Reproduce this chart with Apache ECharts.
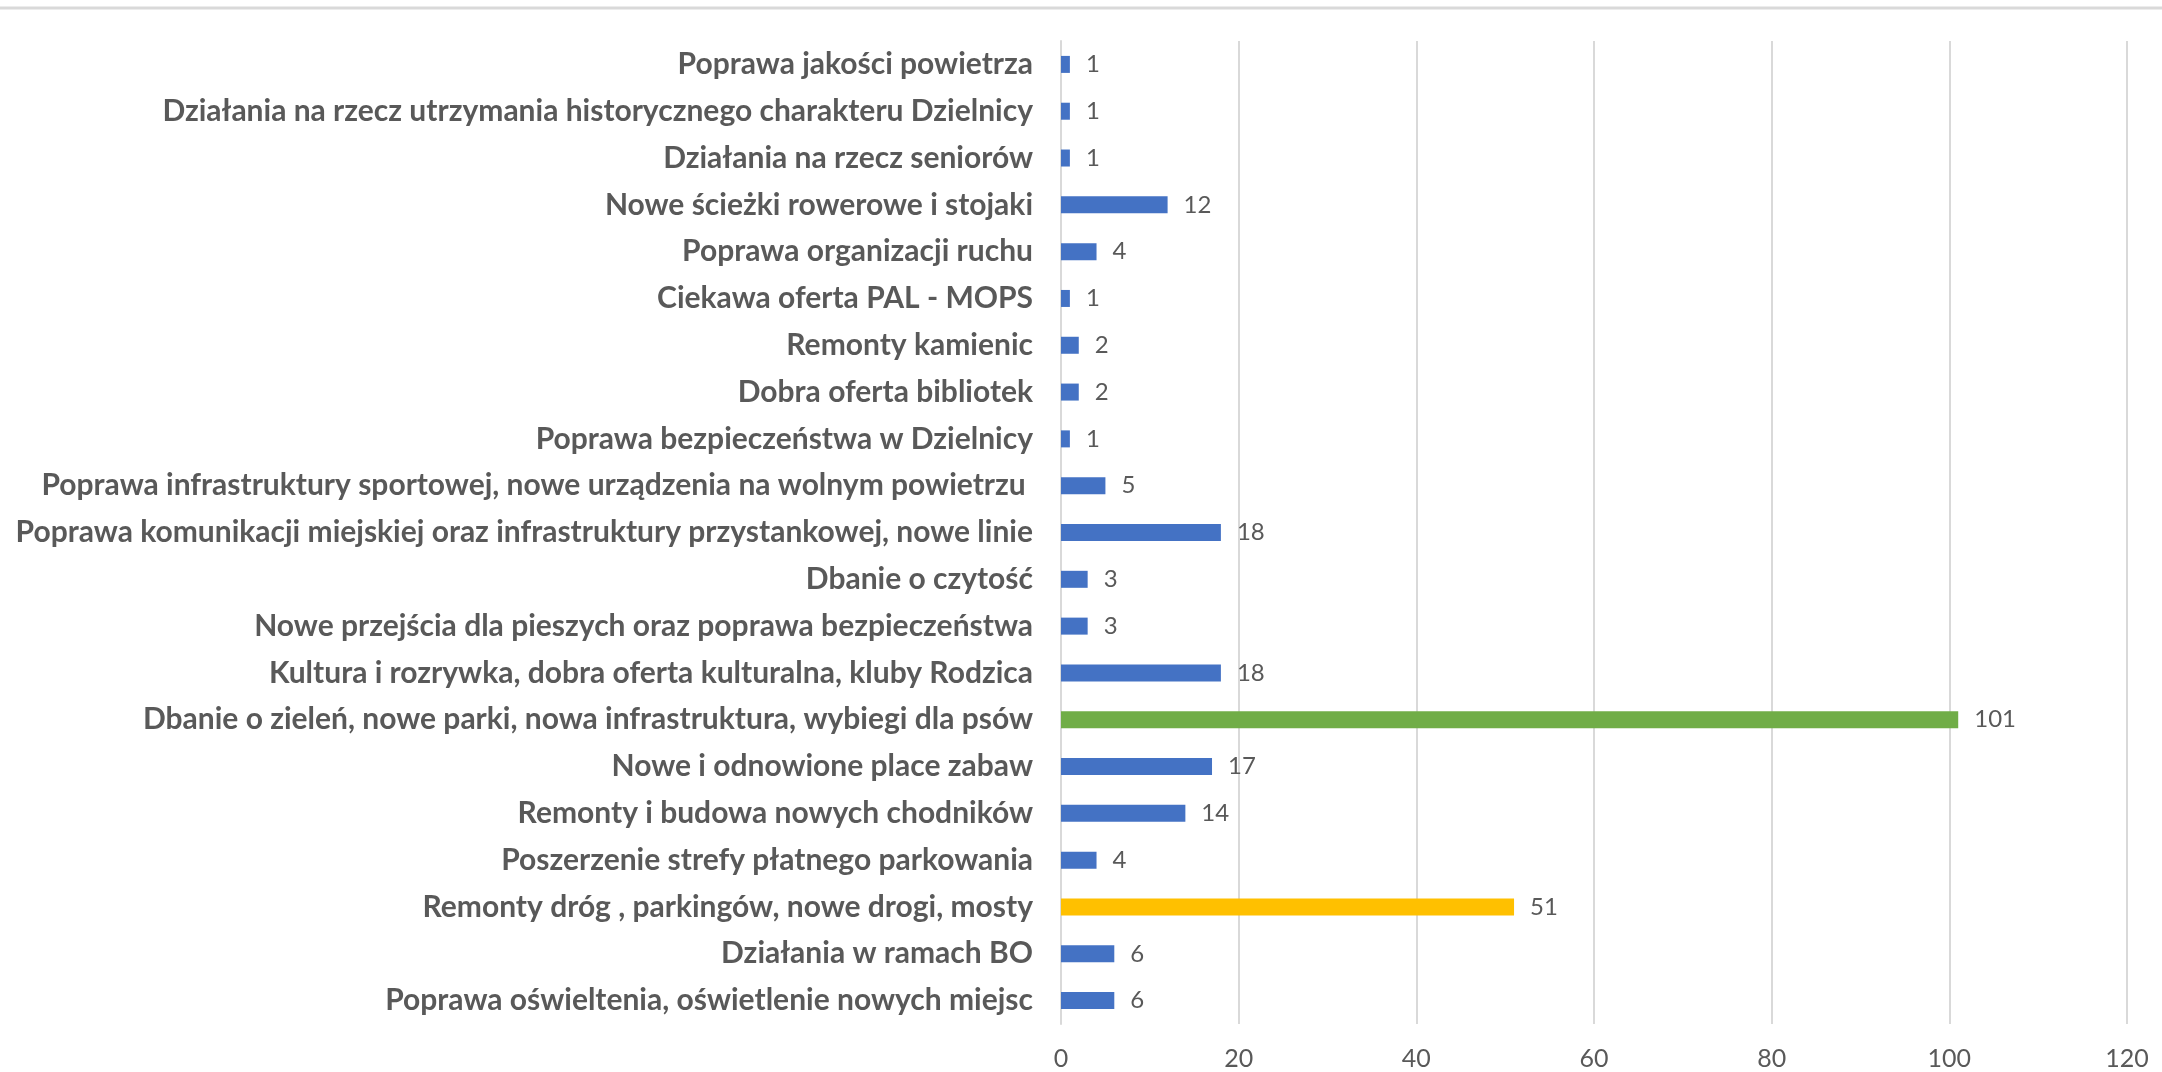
<!DOCTYPE html>
<html>
<head>
<meta charset="utf-8">
<script src="https://cdn.jsdelivr.net/npm/echarts@6/dist/echarts.min.js"></script>
<style>
html,body{margin:0;padding:0;background:#fff;}
#chart{width:2162px;height:1072px;}
</style>
</head>
<body>
<div id="chart"></div>
<script>
const categories = [
  "Poprawa jakości powietrza",
  "Działania na rzecz utrzymania historycznego charakteru Dzielnicy",
  "Działania na rzecz seniorów",
  "Nowe ścieżki rowerowe i stojaki",
  "Poprawa organizacji ruchu",
  "Ciekawa oferta PAL - MOPS",
  "Remonty kamienic",
  "Dobra oferta bibliotek",
  "Poprawa bezpieczeństwa w Dzielnicy",
  "Poprawa infrastruktury sportowej, nowe urządzenia na wolnym powietrzu ",
  "Poprawa komunikacji miejskiej oraz infrastruktury przystankowej, nowe linie",
  "Dbanie o czytość",
  "Nowe przejścia dla pieszych oraz poprawa bezpieczeństwa",
  "Kultura i rozrywka, dobra oferta kulturalna, kluby Rodzica",
  "Dbanie o zieleń, nowe parki, nowa infrastruktura, wybiegi dla psów",
  "Nowe i odnowione place zabaw",
  "Remonty i budowa nowych chodników",
  "Poszerzenie strefy płatnego parkowania",
  "Remonty dróg , parkingów, nowe drogi, mosty",
  "Działania w ramach BO",
  "Poprawa oświeltenia, oświetlenie nowych miejsc"
];
const values = [1, 1, 1, 12, 4, 1, 2, 2, 1, 5, 18, 3, 3, 18, 101, 17, 14, 4, 51, 6, 6];
const xTicks = [0, 20, 40, 60, 80, 100, 120];

const highlightColors = {
  "Dbanie o zieleń, nowe parki, nowa infrastruktura, wybiegi dla psów": "#70AD47",
  "Remonty dróg , parkingów, nowe drogi, mosty": "#FFC000"
};

const chart = echarts.init(document.getElementById('chart'), null, {renderer: 'canvas'});
chart.setOption({
  animation: false,
  backgroundColor: '#ffffff',
  graphic: [{
    type: 'line',
    shape: {x1: 0, y1: 8, x2: 2162, y2: 8},
    style: {stroke: '#d9d9d9', lineWidth: 3}
  }],
  grid: {left: 1061, right: 35, top: 41, bottom: 48, containLabel: false},
  xAxis: {
    type: 'value',
    min: xTicks[0],
    max: xTicks[xTicks.length - 1],
    interval: 20,
    axisLine: {show: false},
    axisTick: {show: false},
    splitLine: {show: true, lineStyle: {color: '#d9d9d9', width: 2}},
    axisLabel: {
      color: '#595959', fontFamily: 'Lato', fontSize: 25, margin: 22
    }
  },
  yAxis: {
    type: 'category',
    data: categories,
    inverse: true,
    axisLine: {show: true, lineStyle: {color: '#d9d9d9', width: 2}},
    axisTick: {show: false},
    axisLabel: {
      color: '#595959', fontFamily: 'Lato', fontWeight: 'bold', fontSize: 30, margin: 28
    }
  },
  series: [{
    type: 'bar',
    data: values,
    barWidth: 17,
    itemStyle: {
      color: function (p) { return highlightColors[categories[p.dataIndex]] || '#4472C4'; }
    },
    label: {
      show: true, position: 'right', distance: 16,
      color: '#595959', fontFamily: 'Lato', fontSize: 24
    }
  }]
});
</script>
</body>
</html>
